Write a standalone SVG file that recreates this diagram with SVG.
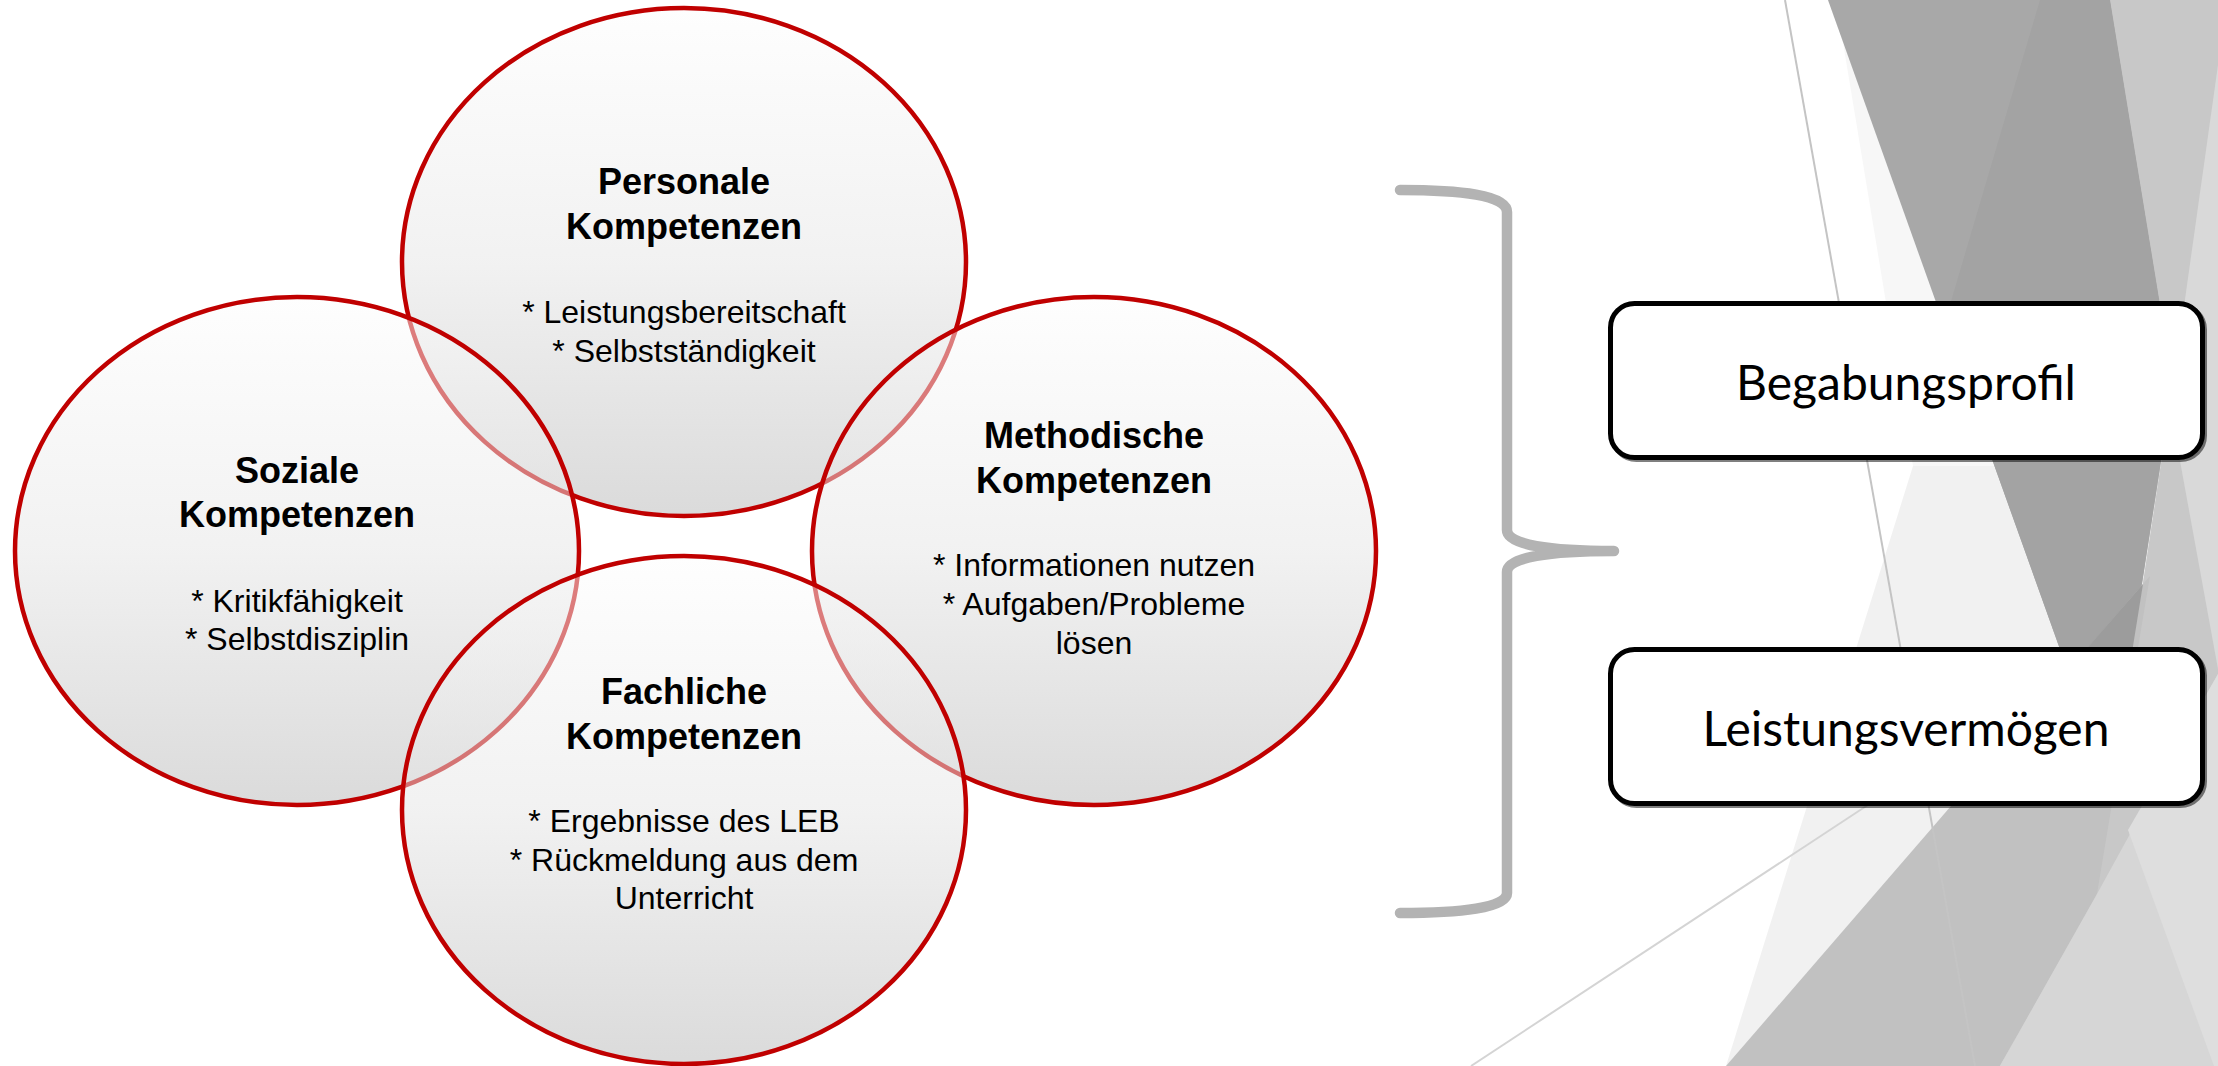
<svg xmlns="http://www.w3.org/2000/svg" width="2218" height="1066" viewBox="0 0 2218 1066">
<defs>
<linearGradient id="cg" x1="0" y1="0" x2="0" y2="1">
<stop offset="0" stop-color="#fdfdfd" stop-opacity="0.5"/>
<stop offset="0.5" stop-color="#e4e4e4" stop-opacity="0.5"/>
<stop offset="1" stop-color="#b6b6b6" stop-opacity="0.5"/>
</linearGradient>
<style>
.circ{fill:url(#cg);stroke:#c00000;stroke-width:4.5}
.t{font-family:"Liberation Sans",Arial,sans-serif;font-weight:bold;font-size:36px;fill:#000;text-anchor:middle}
.l{font-family:"Liberation Sans",Arial,sans-serif;font-size:32px;fill:#000;text-anchor:middle}
.box{fill:#fff;stroke:#000;stroke-width:5}
.shadow{fill:none;stroke:#000;stroke-opacity:0.5;stroke-width:5}
.bt{font-family:Lato,"Liberation Sans",sans-serif;font-size:48px;fill:#000;text-anchor:middle}
</style>
</defs>
<rect width="2218" height="1066" fill="#fff"/>
<g id="background">
<polygon points="1828,0 1836,0 1913,466 2000,466" fill="#f7f7f7"/>
<polygon points="1913,466 1726,1066 2218,1066 2218,466" fill="#f1f1f1"/>
<polygon points="2110,0 2218,0 2218,1066 2000,1066 2097,886 2173,384" fill="#c8c8c8"/>
<polygon points="2218,65 2170,406 2218,669" fill="#d9d9d9"/>
<polygon points="1828,0 2110,0 2173,384 2110,789" fill="#a8a8a8"/>
<polygon points="2040,0 2110,0 2173,384 2110,789 1944,325" fill="#a3a3a3"/>
<polygon points="1726,1066 2150,576 2097,894 2000,1066" fill="#c1c1c1"/>
<polygon points="2068,670 2143,584 2110,789" fill="#9c9c9c"/>
<polygon points="2097,894 2218,674 2218,1066 2000,1066" fill="#d6d6d6"/>
<polygon points="2128,830 2218,674 2218,1066 2214,1066" fill="#dedede"/>
<line x1="1785" y1="0" x2="1975" y2="1066" stroke="#c4c4c4" stroke-width="2"/>
<line x1="1471" y1="1066" x2="1880" y2="797" stroke="#d4d4d4" stroke-width="2"/>
</g>
<g id="personale">
<ellipse class="circ" cx="684" cy="262" rx="282" ry="254"/>
<text class="t" x="684" y="194">Personale</text>
<text class="t" x="684" y="239">Kompetenzen</text>
<text class="l" x="684" y="323">* Leistungsbereitschaft</text>
<text class="l" x="684" y="362">* Selbstständigkeit</text>
</g>
<g id="soziale">
<ellipse class="circ" cx="297" cy="551" rx="282" ry="254"/>
<text class="t" x="297" y="483">Soziale</text>
<text class="t" x="297" y="527">Kompetenzen</text>
<text class="l" x="297" y="612">* Kritikfähigkeit</text>
<text class="l" x="297" y="650">* Selbstdisziplin</text>
</g>
<g id="methodische">
<ellipse class="circ" cx="1094" cy="551" rx="282" ry="254"/>
<text class="t" x="1094" y="448">Methodische</text>
<text class="t" x="1094" y="493">Kompetenzen</text>
<text class="l" x="1094" y="576">* Informationen nutzen</text>
<text class="l" x="1094" y="615">* Aufgaben/Probleme</text>
<text class="l" x="1094" y="654">lösen</text>
</g>
<g id="fachliche">
<ellipse class="circ" cx="684" cy="810" rx="282" ry="254"/>
<text class="t" x="684" y="704">Fachliche</text>
<text class="t" x="684" y="749">Kompetenzen</text>
<text class="l" x="684" y="832">* Ergebnisse des LEB</text>
<text class="l" x="684" y="871">* Rückmeldung aus dem</text>
<text class="l" x="684" y="909">Unterricht</text>
</g>
<g id="connectors">
<path d="M1400,190 C1460,190 1507,195 1507,212 L1507,530 C1507,545 1550,551 1614,551 C1550,551 1507,557 1507,572 L1507,893 C1507,908 1460,913 1400,913" fill="none" stroke="#b3b3b3" stroke-width="10.5" stroke-linecap="round" stroke-linejoin="round"/>
</g>
<g id="begabungsprofil">
<rect class="shadow" x="1612.5" y="305.5" width="592" height="154" rx="24"/>
<rect class="box" x="1610.5" y="303.5" width="592" height="154" rx="24"/>
<text class="bt" x="1906" y="400">Begabungsprofil</text>
</g>
<g id="leistungsvermoegen">
<rect class="shadow" x="1612.5" y="651.5" width="592" height="154" rx="24"/>
<rect class="box" x="1610.5" y="649.5" width="592" height="154" rx="24"/>
<text class="bt" x="1906" y="746">Leistungsvermögen</text>
</g>
</svg>
